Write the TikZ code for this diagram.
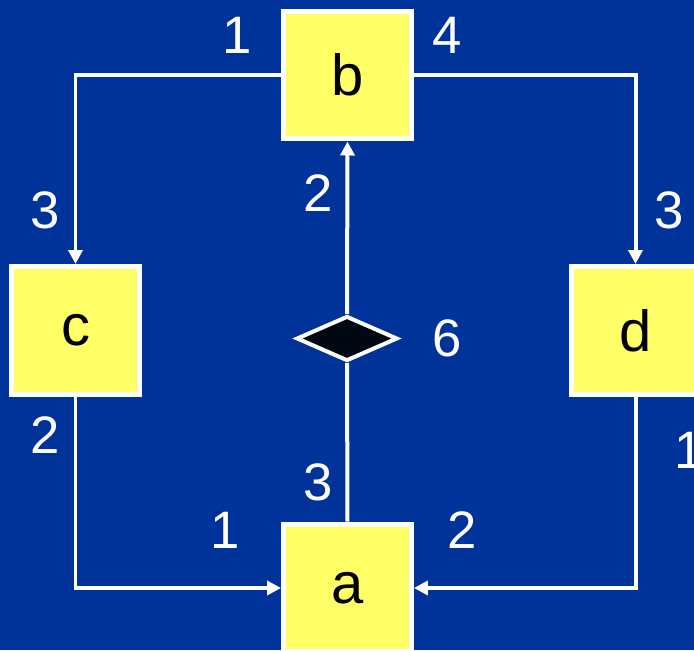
\documentclass[tikz,border=0pt]{standalone}
\usepackage{fontspec}
\setmainfont{Liberation Sans}
\usepackage{xcolor}
\usetikzlibrary{shapes.geometric, arrows.meta, positioning}

\definecolor{slateblue}{RGB}{0,51,153}
\definecolor{boxyellow}{RGB}{255,255,102}
\definecolor{hubblack}{RGB}{0,8,20}

\begin{document}
\begin{tikzpicture}[
    x=0.02cm, y=-0.02cm,
    box/.style={draw=white, line width=0.1cm, fill=boxyellow, rectangle, minimum width=2.56cm, minimum height=2.56cm, inner sep=0pt, font=\fontsize{33}{40}\selectfont},
    hub/.style={draw=white, line width=0.08cm, fill=hubblack, diamond, minimum width=2.02cm, minimum height=0.9cm, inner sep=0pt},
    num/.style={text=white, font=\fontsize{30}{36}\selectfont, inner sep=0pt},
    link/.style={draw=white, line width=0.08cm, -{Triangle[length=0.28cm, width=0.28cm]}},
    wire/.style={draw=white, line width=0.08cm}
]

\fill[slateblue] (0,0) rectangle (694,650);
\useasboundingbox (0,0) rectangle (694,650);
\clip (0,0) rectangle (694,650);

\node[box] (b) at (347.5,75) {b};
\node[box] (c) at (75.5,330.5) {c};
\node[box] (d) at (635.5,330.5) {d};
\node[box] (a) at (347.5,588) {a};
\node[hub] (h) at (347,338.5) {};

\draw[link] (b.west) -| (c.north);
\draw[link] (b.east) -| (d.north);
\draw[link] (c.south) |- (a.west);
\draw[link] (d.south) |- (a.east);
\draw[wire] (a.north) -- (h.south);
\draw[link] (h.north) -- (b.south);

% port numbers
\node[num] (b1) at (237,35) {1};
\node[num] (b4) at (447,35) {4};
\node[num] (c3) at (45,210) {3};
\node[num] (h2) at (318,193) {2};
\node[num] (d3) at (669,210) {3};
\node[num] (h6) at (447,338) {6};
\node[num] (c2) at (45,435) {2};
\node[num] (d1) at (689,450) {1};
\node[num] (h3) at (318,482) {3};
\node[num] (a1) at (225,530) {1};
\node[num] (a2) at (462,530) {2};

\end{tikzpicture}
\end{document}
